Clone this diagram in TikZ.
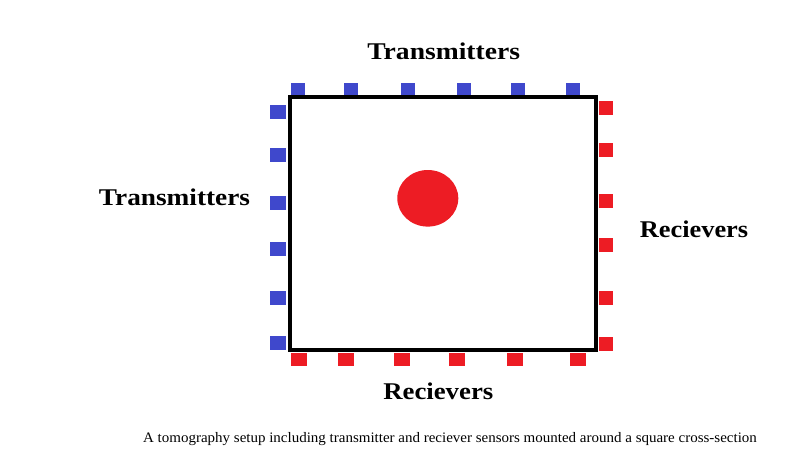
\documentclass[tikz,border=0pt]{standalone}
\usepackage{fontspec}
\setmainfont{Liberation Serif}
\usetikzlibrary{shapes.geometric}
\definecolor{tblue}{RGB}{63,72,204}
\definecolor{rred}{RGB}{237,28,36}
\begin{document}
\begin{tikzpicture}[x=1pt,y=-1pt,
  sensor/.style={inner sep=0pt,outer sep=0pt,draw=none},
  tsq/.style={sensor,fill=tblue},
  rsq/.style={sensor,fill=rred},
  lbl/.style={font=\bfseries\fontsize{24}{28}\selectfont,inner sep=0pt,anchor=base},
  capt/.style={font=\fontsize{14.5}{17}\selectfont,inner sep=0pt,anchor=base}]
\useasboundingbox (0,0) rectangle (789,474);
\fill[white] (0,0) rectangle (789,474);
% top transmitters
\foreach \x [count=\i] in {298,351,408,463.7,518,573}
  \node[tsq,minimum width=14pt,minimum height=12.5pt] (tt\i) at (\x,89) {};
% left transmitters
\foreach \y [count=\i] in {112,155,203,248.7,298,343}
  \node[tsq,minimum width=16pt,minimum height=14pt] (tl\i) at (278,\y) {};
% right receivers
\foreach \y [count=\i] in {108,150,201,245,298,344}
  \node[rsq,minimum width=14pt,minimum height=13.5pt] (rr\i) at (606,\y) {};
% bottom receivers
\foreach \x [count=\i] in {298.7,346,402,457,515,578}
  \node[rsq,minimum width=16pt,minimum height=13pt] (rb\i) at (\x,359) {};
% box
\node[draw=black,line width=4pt,minimum width=306.5pt,minimum height=253pt,inner sep=0pt] (box) at (442.75,223.5) {};
% object
\node[ellipse,fill=rred,draw=none,inner sep=0pt,minimum width=61pt,minimum height=56.6pt] (obj) at (427.8,198.3) {};
% labels
\node[lbl] (ltop) at (443.7,59.5) {\resizebox{152.7pt}{\height}{Transmitters}};
\node[lbl] (lleft) at (174.5,205.5) {\resizebox{151pt}{\height}{Transmitters}};
\node[lbl] (lright) at (694,237.2) {\resizebox{108.3pt}{\height}{Recievers}};
\node[lbl] (lbot) at (438.3,399) {\resizebox{110pt}{\height}{Recievers}};
\node[capt] (cap) at (450,442.3) {\resizebox{613.7pt}{\height}{A tomography setup including transmitter and reciever sensors mounted around a square cross-section}};
\end{tikzpicture}
\end{document}
